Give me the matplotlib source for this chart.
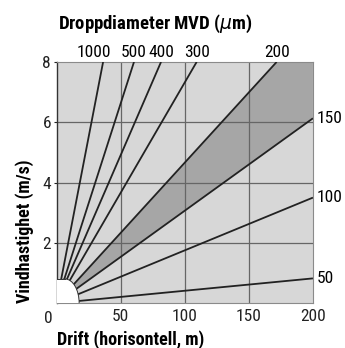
import matplotlib
matplotlib.use("Agg")
import matplotlib.pyplot as plt
from matplotlib.patches import Ellipse, Rectangle, Polygon

# droplet diameter (um) and where each drift line ends (drift m, wind m/s)
diameters = ["1000", "500", "400", "300", "200", "150", "100", "50"]
end_drift = [36.3, 60.4, 81.5, 109.3, 171.7, 200, 200, 200]
end_wind = [8, 8, 8, 8, 8, 6.13, 3.5, 0.82]

x_ticks = [50, 100, 150, 200]
y_ticks = [2, 4, 6, 8]

plt.rcParams['font.family'] = ['Roboto Condensed', 'Archivo Narrow', 'DejaVu Sans']

fig = plt.figure(figsize=(3.45, 3.48), dpi=100)
ax = fig.add_axes([0.164, 0.129, 0.743, 0.693])
ax.set_xlim(0, 200)
ax.set_ylim(0, 8)
ax.set_facecolor('#d7d7d7')

# dark band between the 200 and 150 um lines
i200 = diameters.index("200")
i150 = diameters.index("150")
band = Polygon([(0, 0), (end_drift[i200], end_wind[i200]), (200, 8),
                (end_drift[i150], end_wind[i150])],
               closed=True, facecolor='#a6a6a6', edgecolor='none', zorder=1)
ax.add_patch(band)

for v in x_ticks[:-1]:
    ax.axvline(v, color='#666666', lw=0.9, zorder=2)
for v in y_ticks[:-1]:
    ax.axhline(v, color='#666666', lw=0.9, zorder=2)

for d, x, y in zip(diameters, end_drift, end_wind):
    ax.plot([0, x], [0, y], color='#222222', lw=1.3, zorder=3,
            solid_capstyle='butt')

# white half-disc at the nozzle
ax.add_patch(Ellipse((6.6, 0), 22, 1.6, facecolor='white',
                     edgecolor='#333333', lw=0.7, zorder=4))
ax.add_patch(Rectangle((0, 0), 6.6, 0.8, facecolor='white',
                       edgecolor='none', zorder=4))
ax.plot([0, 6.6], [0.8, 0.8], color='#333333', lw=0.7, zorder=5)

# diameter labels
for d, x, y in zip(diameters, end_drift, end_wind):
    if y >= 8:
        dx = -7 if d == "1000" else 0
        ax.annotate(d, (x, 8), xytext=(dx, 1.5), textcoords='offset points',
                    ha='center', va='bottom', fontsize=12.5)
    else:
        ax.annotate(d, (200, y), xytext=(3, 0), textcoords='offset points',
                    ha='left', va='center', fontsize=12.5)

ax.set_xticks(x_ticks)
ax.set_yticks(y_ticks)
ax.tick_params(labelsize=12.5, length=2, width=0.8, pad=2, colors='#222222')
ax.tick_params(axis='x', length=0, pad=4)
ax.text(-3, -0.25, "0", ha='right', va='top', fontsize=12.5, color='#222222')

for s in ['top', 'right', 'bottom']:
    ax.spines[s].set_color('#8a8a8a')
    ax.spines[s].set_linewidth(0.8)
ax.spines['left'].set_color('#333333')
ax.spines['left'].set_linewidth(1.0)

ax.set_xlabel("Drift (horisontell, m)", fontsize=13, fontweight='bold',
              loc='left', labelpad=5)
ax.set_ylabel("Vindhastighet (m/s)", fontsize=13, fontweight='bold',
              loc='bottom', labelpad=6)
fig.text(0.45, 0.93, "Droppdiameter MVD ($\\mu$m)", ha='center', va='center',
         fontsize=13.5, fontweight='bold')

fig.savefig("out.png", dpi=100)
